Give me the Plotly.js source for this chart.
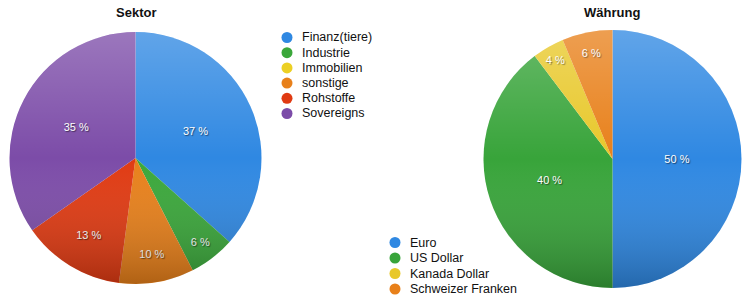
<!DOCTYPE html>
<html>
<head>
<meta charset="utf-8">
<script src="https://cdn.plot.ly/plotly-3.0.1.min.js"></script>
<style>html,body{margin:0;padding:0;background:#fff;}#chart{width:747px;height:301px;}</style>
</head>
<body>
<div id="chart"></div>
<script>
const sektorLabels = ['Finanz(tiere)', 'Industrie', 'Immobilien', 'sonstige', 'Rohstoffe', 'Sovereigns'];
const sektorValues = [36.6, 5.9, 0, 9.6, 13.2, 34.7];
const sektorColors = ['#2f88e2', '#3aa73a', '#ecd024', '#e8801a', '#e03a12', '#7c4ca8'];

const waehrungLabels = ['Euro', 'US Dollar', 'Kanada Dollar', 'Schweizer Franken'];
const waehrungValues = [50, 39.7, 4.0, 6.3];
const waehrungColors = ['#2f88e2', '#38a43a', '#e8c82a', '#e8801a'];

const titles = ['Sektor', 'Währung'];

function pctText(vals) {
  const s = vals.reduce((a, b) => a + b, 0);
  return vals.map(v => v > 0 ? Math.round(v / s * 100) + ' %' : '');
}

const FONT = 'Liberation Sans, Arial, Helvetica, sans-serif';
const textFont = {family: FONT, size: 11, color: '#ffffff', shadow: '1px 1px 1px rgba(0,0,0,0.55)'};

const W = 747, H = 301;
const pie1 = {x0: 9.5, x1: 261.5, y0: 32, y1: 284};
const pie2 = {x0: 483.5, x1: 741.5, y0: 30, y1: 288};

function dom(p) { return {x: [p.x0 / W, p.x1 / W], y: [1 - p.y1 / H, 1 - p.y0 / H]}; }

const traces = [
  {
    type: 'pie', labels: sektorLabels, values: sektorValues, text: pctText(sektorValues),
    textinfo: 'text', textposition: 'inside', insidetextorientation: 'horizontal',
    sort: false, direction: 'clockwise', rotation: 0,
    marker: {colors: sektorColors, line: {width: 0}},
    textfont: textFont, showlegend: false, hoverinfo: 'label+percent',
    domain: dom(pie1)
  },
  {
    type: 'pie', labels: waehrungLabels, values: waehrungValues, text: pctText(waehrungValues),
    textinfo: 'text', textposition: 'inside', insidetextorientation: 'horizontal',
    sort: false, direction: 'clockwise', rotation: 0,
    marker: {colors: waehrungColors, line: {width: 0}},
    textfont: textFont, showlegend: false, hoverinfo: 'label+percent',
    domain: dom(pie2)
  }
];

// soft vertical shading overlay (styling only)
const shadeSvg = '<svg xmlns="http://www.w3.org/2000/svg" width="100" height="100" viewBox="0 0 100 100">' +
  '<defs><linearGradient id="g" x1="0" y1="0" x2="0" y2="1">' +
  '<stop offset="0" stop-color="#ffffff" stop-opacity="0.24"/>' +
  '<stop offset="0.5" stop-color="#ffffff" stop-opacity="0"/>' +
  '<stop offset="1" stop-color="#000000" stop-opacity="0.24"/>' +
  '</linearGradient></defs><circle cx="50" cy="50" r="50" fill="url(#g)"/></svg>';
const shadeSrc = 'data:image/svg+xml;base64,' + btoa(shadeSvg);

function shadeImage(p) {
  return {source: shadeSrc, xref: 'paper', yref: 'paper', x: p.x0 / W, y: 1 - p.y0 / H,
    sizex: (p.x1 - p.x0) / W, sizey: (p.y1 - p.y0) / H, xanchor: 'left', yanchor: 'top',
    sizing: 'stretch', layer: 'above'};
}

const legendShapes = [];
function legendAnnots(labels, colors, bx, tx, y0, step) {
  const out = [];
  labels.forEach((l, i) => {
    const y = 1 - (y0 + i * step) / H;
    legendShapes.push({type: 'circle', xref: 'paper', yref: 'paper',
      xsizemode: 'pixel', ysizemode: 'pixel', xanchor: bx / W, yanchor: y,
      x0: -5.5, x1: 5.5, y0: -5.5, y1: 5.5,
      fillcolor: colors[i], line: {width: 0}});
    out.push({text: l, x: tx / W, y: y, xref: 'paper', yref: 'paper', xanchor: 'left', yanchor: 'middle',
      showarrow: false, font: {size: 12.5, family: FONT, color: '#111'}});
  });
  return out;
}

const annots = [
  {text: '<b>' + titles[0] + '</b>', x: 136 / W, y: 1 - 13 / H, xref: 'paper', yref: 'paper',
    xanchor: 'center', yanchor: 'middle', showarrow: false, font: {size: 13, family: FONT, color: '#111'}},
  {text: '<b>' + titles[1] + '</b>', x: 612 / W, y: 1 - 12 / H, xref: 'paper', yref: 'paper',
    xanchor: 'center', yanchor: 'middle', showarrow: false, font: {size: 13, family: FONT, color: '#111'}}
].concat(legendAnnots(sektorLabels, sektorColors, 287, 300, 37.5, 15.2))
 .concat(legendAnnots(waehrungLabels, waehrungColors, 395, 408, 242.5, 15.5));

const layout = {
  width: W, height: H,
  margin: {l: 0, r: 0, t: 0, b: 0},
  paper_bgcolor: '#ffffff',
  font: {family: FONT, color: '#111111'},
  showlegend: false,
  images: [shadeImage(pie1), shadeImage(pie2)],
  shapes: legendShapes,
  annotations: annots
};

Plotly.newPlot('chart', traces, layout, {displayModeBar: false, staticPlot: true});
</script>
</body>
</html>
